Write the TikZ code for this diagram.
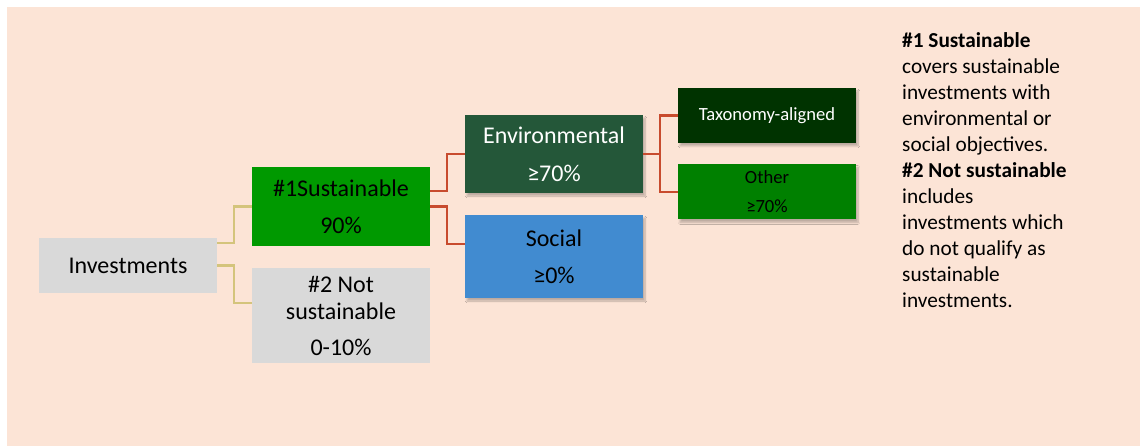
\documentclass[tikz,border=0pt]{standalone}
\usepackage{fontspec}
\setmainfont{Carlito}
\usepackage{tikz}
\usetikzlibrary{shadows.blur}

\definecolor{peach}{HTML}{FCE4D6}
\definecolor{boxgray}{HTML}{D9D9D9}
\definecolor{susgreen}{HTML}{009900}
\definecolor{envgreen}{HTML}{245739}
\definecolor{taxgreen}{HTML}{003300}
\definecolor{othgreen}{HTML}{008000}
\definecolor{socblue}{HTML}{418BD0}
\definecolor{linkred}{HTML}{C84B2E}
\definecolor{linkyellow}{HTML}{D4C47C}

\begin{document}
\begin{tikzpicture}[x=1pt, y=-1pt,
    block/.style={rectangle, minimum width=178pt, inner sep=0pt, align=center,
                  font=\fontsize{24}{27}\selectfont},
    smallblock/.style={block, minimum height=55pt, font=\fontsize{18.6}{22}\selectfont},
    shade/.style={blur shadow={shadow xshift=2pt, shadow yshift=-3pt,
                  shadow opacity=25, shadow blur steps=6}},
    link/.style={draw=linkyellow, line width=2.4pt},
    redlink/.style={draw=linkred, line width=2.4pt}]
    \fill[white] (0,0) rectangle (1140,446);
    \useasboundingbox (0,0) rectangle (1140,446);
    \fill[peach] (7,7) rectangle (1140,446);
    % left part of the tree
    \node[block, fill=boxgray, minimum height=55pt] (inv) at (128,265.5) {Investments};
    \node[block, fill=susgreen, minimum height=79pt] (sus) at (341,206.5) {\#1Sustainable\\[10pt]90\%};
    \node[block, fill=boxgray, minimum height=95pt] (notsus) at (341,315.5) {\#2 Not\\sustainable\\[9pt]0-10\%};
    % sustainable split
    \node[block, shade, fill=envgreen, text=white, minimum height=78pt] (env) at (554,154) {Environmental\\[11pt]≥70\%};
    \node[block, shade, fill=socblue, minimum height=83pt] (soc) at (554,256.5) {Social\\[10pt]≥0\%};
    \node[smallblock, shade, fill=taxgreen, text=white] (tax) at (767,115.5) {Taxonomy-aligned};
    \node[smallblock, shade, fill=othgreen] (oth) at (767,192) {Other\\[7pt]≥70\%};
    % explanation
    \node[anchor=north west, inner sep=0pt, align=left,
          font=\fontsize{21.3}{26}\selectfont] (note) at (902,32)
          {\textbf{\#1 Sustainable}\\covers sustainable\\investments with\\environmental or\\social objectives.\\
           \textbf{\#2 Not sustainable}\\includes\\investments which\\do not qualify as\\sustainable\\investments.};
    \draw[link] ([yshift=22.5pt]inv.east) -- ++(17,0) |- (sus.west);
    \draw[link] (inv.east) -- ++(17,0) |- ([yshift=12.5pt]notsus.west);
    \draw[redlink] ([yshift=15.5pt]sus.east) -- ++(17,0) |- (env.west);
    \draw[redlink] (sus.east) -- ++(17,0) |- ([yshift=12.5pt]soc.west);
    \draw[redlink] (env.east) -- ++(17,0) |- (tax.west);
    \draw[redlink] (env.east) -- ++(17,0) |- (oth.west);
\end{tikzpicture}
\end{document}
